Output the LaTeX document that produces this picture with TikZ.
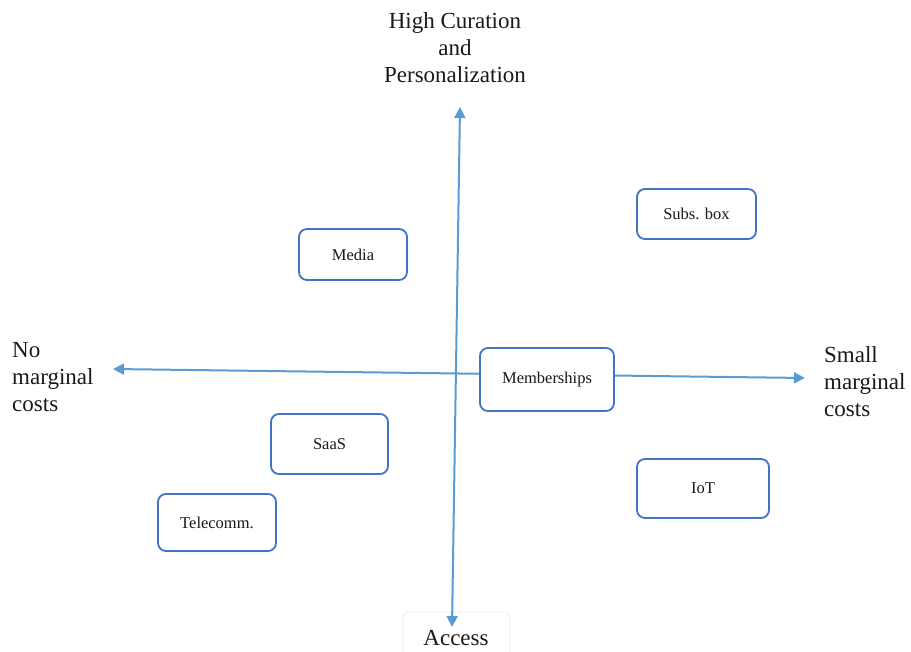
\documentclass[tikz,border=0pt]{standalone}
\usepackage{fontspec}
\setmainfont{Liberation Serif}
\usetikzlibrary{arrows.meta}
\definecolor{axisblue}{RGB}{91,155,213}
\definecolor{boxblue}{RGB}{68,114,196}
\begin{document}
\begin{tikzpicture}[x=1pt,y=-1pt,
  axis/.style={draw=axisblue,line width=2pt,{Triangle[length=11pt,width=11pt]}-{Triangle[length=11pt,width=11pt]}},
  catbox/.style={draw=boxblue,line width=1.8pt,rounded corners=8pt,fill=white,inner sep=0pt,
    font=\fontsize{16.5}{19}\selectfont,text=black!90},
  axlabel/.style={font=\fontsize{23}{27}\selectfont,text=black!90,inner sep=0pt,align=left}
  ]
\useasboundingbox (0,0) rectangle (911,652);
% faint frame around Access
\draw[black!6,line width=1pt,rounded corners=6pt] (403,652) -- (403,612) -- (510,612) -- (510,652);
% axes
\coordinate (vtop) at (460,107);
\coordinate (vbot) at (452,627);
\coordinate (hl) at (113,369);
\coordinate (hr) at (805,378);
\draw[axis] (vbot) -- (vtop);
\draw[axis] (hl) -- (hr);
% boxes
\node[catbox,minimum width=108pt,minimum height=51pt] (media) at (353,254.5) {Media};
\node[catbox,minimum width=119pt,minimum height=50pt] (subs) at (696.5,214) {Subs. box};
\node[catbox,minimum width=134pt,minimum height=63pt] (memb) at (547,379.5) {Memberships};
\node[catbox,minimum width=117pt,minimum height=60pt] (saas) at (329.5,444) {SaaS};
\node[catbox,minimum width=118pt,minimum height=57pt] (tele) at (217,522.5) {Telecomm.};
\node[catbox,minimum width=132pt,minimum height=59pt] (iot) at (703,488.5) {IoT};
% labels
\node[axlabel,align=center] (top) at (455,48) {High Curation\\and\\Personalization};
\node[axlabel,anchor=west] (left) at (12,377) {No\\marginal\\costs};
\node[axlabel,anchor=west] (right) at (824,382) {Small\\marginal\\costs};
\node[axlabel] (bottom) at (456,638) {Access};
\end{tikzpicture}
\end{document}
